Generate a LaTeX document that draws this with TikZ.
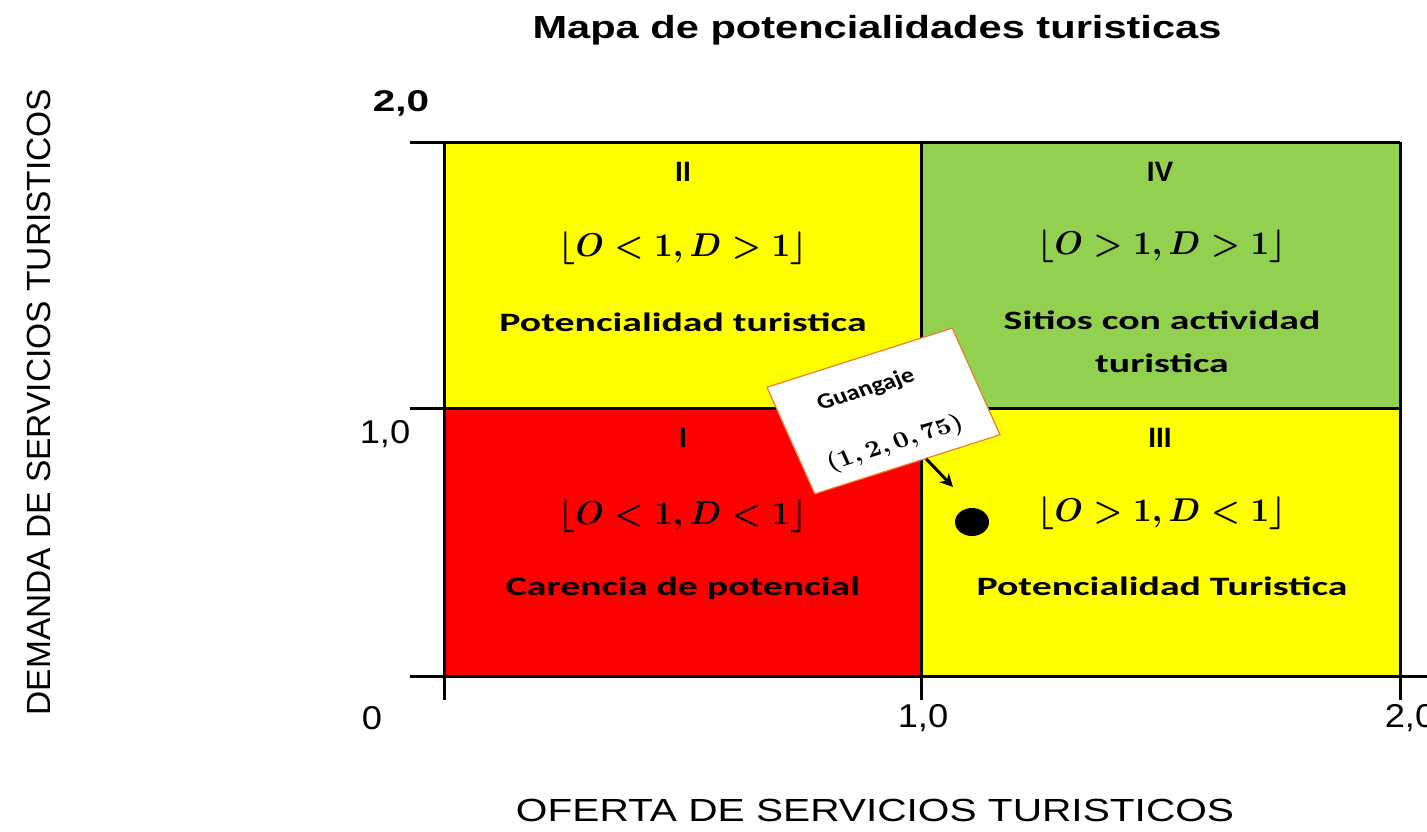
\documentclass[tikz,border=0pt]{standalone}
\usepackage{fontspec}
\setmainfont{Carlito}
\newfontfamily\arial{Liberation Sans}
\usetikzlibrary{calc,arrows.meta,shapes.geometric}
\definecolor{qyellow}{HTML}{FFFF00}
\definecolor{qgreen}{HTML}{92D050}
\definecolor{qred}{HTML}{FF0000}
\definecolor{calloutedge}{HTML}{ED7D31}
\newcommand{\quadformula}[1]{\scalebox{3.27}[3.3]{\boldmath$#1$}}
\begin{document}
\begin{tikzpicture}[x=1pt,y=-1pt,
  quad/.style={minimum width=477pt,minimum height=266pt,inner sep=0pt,outer sep=0pt},
  gridline/.style={line width=3pt,black},
  titletext/.style={font=\arial\bfseries\fontsize{32}{36}\selectfont,xscale=1.3,inner sep=0pt},
  axtext/.style={font=\arial\fontsize{32}{36}\selectfont,xscale=1.27,inner sep=0pt},
  ticktext/.style={font=\arial\fontsize{33}{36}\selectfont,xscale=1.1,inner sep=0pt},
  roman/.style={font=\arial\bfseries\fontsize{28}{32}\selectfont,inner sep=0pt},
  qtext/.style={font=\bfseries\fontsize{26.5}{30}\selectfont,xscale=1.5,inner sep=0pt},
  formula/.style={font=\fontsize{10}{12}\selectfont,inner sep=0pt},
  tilted/.style={xscale=1.186,rotate=20.7},
]
\useasboundingbox[fill=white] (0,0) rectangle (1427,831);

% quadrants
\node[quad,fill=qyellow] (q2) at (682.5,275) {};
\node[quad,fill=qgreen]  (q4) at (1160.5,275) {};
\node[quad,fill=qred]    (q1) at (682.5,542) {};
\node[quad,fill=qyellow] (q3) at (1160.5,542) {};

% grid lines and ticks
\draw[gridline] (410,142) -- (1400,142);
\draw[gridline] (410,408) -- (1400,408);
\draw[gridline] (410,676) -- (1427,676);
\draw[gridline] (444,142) -- (444,700);
\draw[gridline] (921,142) -- (921,700);
\draw[gridline] (1400,142) -- (1400,700);

% title and axis labels
\node[titletext] (title) at (877,30) {Mapa de potencialidades turisticas};
\node[axtext] (xlabel) at (875,810) {OFERTA DE SERVICIOS TURISTICOS};
\node[font=\arial\fontsize{33.5}{36}\selectfont,inner sep=0pt,rotate=90] (ylabel) at (39,402) {DEMANDA DE SERVICIOS TURISTICOS};

% tick labels
\node[font=\arial\bfseries\fontsize{30}{34}\selectfont,xscale=1.35,inner sep=0pt] (y20) at (401,103) {2,0};
\node[ticktext] (y10) at (385,434) {1,0};
\node[ticktext] (x0) at (372,718) {0};
\node[ticktext] (x10) at (923,718) {1,0};
\node[ticktext] (x20) at (1410,718) {2,0};

% quadrant II
\node[roman] (r2) at (683,172) {II};
\node[formula] (f2) at (683,248) {\quadformula{\lfloor O<1, D>1\rfloor}};
\node[qtext] (t2) at (683,322) {Potencialidad turistica};
% quadrant IV
\node[roman] (r4) at (1160,172) {IV};
\node[formula] (f4) at (1162,246) {\quadformula{\lfloor O>1, D>1\rfloor}};
\node[qtext] (t4a) at (1162,320) {Sitios con actividad};
\node[qtext] (t4b) at (1162,363) {turistica};
% quadrant I
\node[roman] (r1) at (683,438) {I};
\node[formula] (f1) at (683,516) {\quadformula{\lfloor O<1, D<1\rfloor}};
\node[qtext] (t1) at (683,588) {Carencia de potencial};
% quadrant III
\node[roman] (r3) at (1160,438) {III};
\node[formula] (f3) at (1162,513) {\quadformula{\lfloor O>1, D<1\rfloor}};
\node[qtext] (t3) at (1162,586) {Potencialidad Turistica};

% point
\node[ellipse,fill=black,minimum width=34pt,minimum height=28pt,inner sep=0pt] (pt) at (972,522) {};

% callout
\node[tilted,draw=calloutedge,line width=1.2pt,fill=white,minimum width=167pt,minimum height=114pt,inner sep=0pt] (callout) at (883.5,411) {};
\node[tilted,font=\bfseries\fontsize{22}{26}\selectfont,inner sep=0pt] (cname) at (866,390) {Guangaje};
\node[tilted,font=\fontsize{10}{12}\selectfont,inner sep=0pt] (cval) at (895,444) {\scalebox{2.3}{\boldmath$(1,2,0,75)$}};
\coordinate (arrowend) at (953,487);
\draw[line width=3pt,-{Stealth[length=13pt,width=13pt]}] ($(callout.south)!0.2!(callout.south east)$) -- (arrowend);
\end{tikzpicture}
\end{document}
